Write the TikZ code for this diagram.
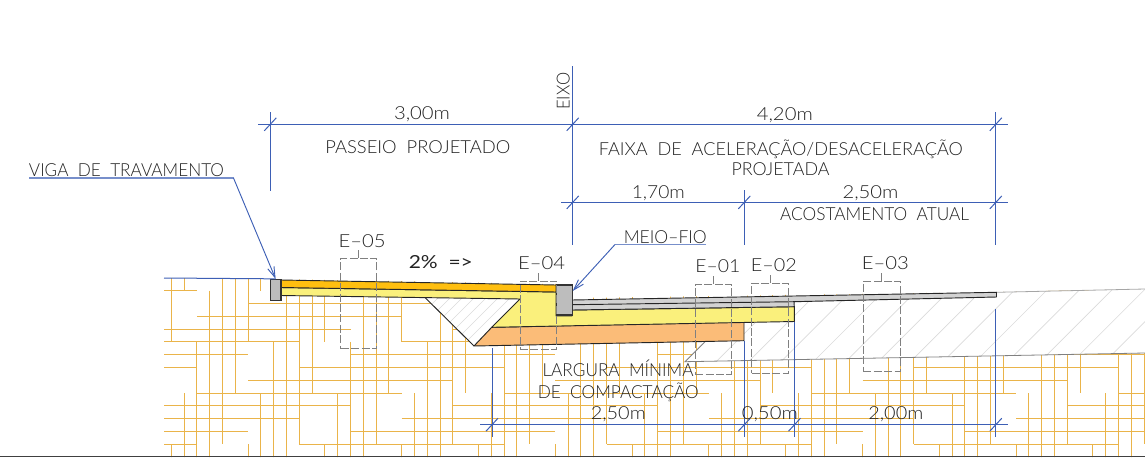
\documentclass[tikz,border=0pt]{standalone}
\usepackage{fontspec}
\usepackage{graphicx}
\setmainfont{Lato}[UprightFont={* Light}]
\newfontfamily\regfont{Lato}
\usetikzlibrary{arrows.meta}
\definecolor{earth}{HTML}{EAB44A}
\definecolor{dimblue}{HTML}{3D5FB5}
\definecolor{ink}{HTML}{222222}
\definecolor{gold}{HTML}{FFBF10}
\definecolor{pale}{HTML}{FAF07C}
\definecolor{peach}{HTML}{FBBC78}
\definecolor{curb}{HTML}{BDBDBD}
\definecolor{asph}{HTML}{D2D2D2}
\newcommand{\lbl}[2]{\resizebox{\dimexpr #1pt*3/4\relax}{\height}{\fontsize{13.5pt}{14pt}\selectfont #2}}
\tikzset{
  gridline/.style={earth,line width=0.75pt},
  dimline/.style={dimblue,line width=0.75pt},
  leader/.style={dimblue,line width=0.7pt,-{Straight Barb[length=8pt,width=5pt]}},
  hatchline/.style={black!14,line width=0.5pt},
  outline/.style={draw=black!85,line width=0.7pt,line join=round},
  ebox/.style={draw=black!50,dash pattern=on 6pt off 1.8pt,line width=0.7pt,inner sep=0pt},
  etick/.style={black!50,line width=0.7pt},
  txt/.style={ink,inner sep=0pt,anchor=base},
  curbbox/.style={draw=black!80,fill=curb,line width=0.8pt,inner sep=0pt}
}
\begin{document}
\begin{tikzpicture}[x=0.75pt,y=-0.75pt]
\useasboundingbox (0,0) rectangle (1145,457);
% earth pattern
\begin{scope}
\clip (164,278) -- (281,279) -- (556,284) -- (573,298) -- (996,292) -- (1145,289) -- (1145,457) -- (164,457) -- cycle;
\foreach \j in {0,...,12}{
  \pgfmathsetmacro{\yy}{290.7+12.8*\j}
  \pgfmathsetmacro{\st}{Mod(34-4*\j,24)-24}
  \foreach \k in {0,...,4}{
    \pgfmathsetmacro{\xa}{171.3+12.8*(\st+24*\k)}
    \pgfmathsetmacro{\xb}{171.3+12.8*(\st+16+24*\k)}
    \draw[gridline] (\xa,\yy) -- (\xb,\yy);
  }
}
\foreach \i in {0,...,76}{
  \pgfmathsetmacro{\xx}{171.3+12.8*\i}
  \pgfmathsetmacro{\en}{Mod(4-4*\i,24)}
  \pgfmathsetmacro{\ya}{290.7+12.8*(\en-16)}
  \pgfmathsetmacro{\yb}{290.7+12.8*\en}
  \pgfmathsetmacro{\yc}{290.7+12.8*(\en+8)}
  \pgfmathsetmacro{\yd}{290.7+12.8*(\en+24)}
  \draw[gridline] (\xx,\ya) -- (\xx,\yb);
  \draw[gridline] (\xx,\yc) -- (\xx,\yd);
}
\end{scope}
% existing subgrade (hatched)
\fill[white] (685,361.7) -- (744,303) -- (794,296) -- (996,292.3) -- (1145,289) -- (1145,353) -- cycle;
\begin{scope}
\clip (685,361.7) -- (744,303) -- (794,296) -- (996,292.3) -- (1145,289) -- (1145,353) -- cycle;
\foreach \k in {-14,...,14}{
  \pgfmathsetmacro{\c}{1175+32.4*\k}
  \pgfmathsetmacro{\xa}{\c-370}
  \pgfmathsetmacro{\xb}{\c-280}
  \draw[hatchline] (\xa,370) -- (\xb,280);
}
\end{scope}
\draw[black!50,line width=0.6pt] (744,303) -- (685,361.7) -- (1145,353);
\draw[black!35,line width=0.6pt] (996,292.3) -- (1145,289);
% drainage wedge
\fill[white] (425,297.5) -- (474,346) -- (520,299) -- cycle;
\begin{scope}
\clip (425,297.5) -- (474,346) -- (520,299) -- cycle;
\foreach \k in {0,...,12}{
  \pgfmathsetmacro{\c}{700+12*\k}
  \pgfmathsetmacro{\xa}{\c-350}
  \pgfmathsetmacro{\xb}{\c-290}
  \draw[hatchline] (\xa,350) -- (\xb,290);
}
\end{scope}
\draw[black!85,line width=0.7pt] (425,297.5) -- (474,346);
% layers
\draw[outline,fill=peach] (491.7,327.3) -- (744,322) -- (744,340.7) -- (474,346) -- cycle;
\draw[outline,fill=pale] (281,287.5) -- (556,292) -- (556,316) -- (572,316) -- (572,310) -- (794.3,306.7) -- (794.3,321.5) -- (491.7,327.3) -- (520,299) -- (281,295.5) -- cycle;
\draw[outline,fill=gold] (281,280) -- (556,285) -- (556,292) -- (281,287.5) -- cycle;
\draw[outline,fill=asph] (572,300) -- (794,296) -- (996.5,292.3) -- (996.5,297) -- (794,301.7) -- (794.3,306.7) -- (572,310) -- cycle;
\draw[black!85,line width=0.7pt] (572,304.7) -- (794,301.7);
% curbs
\node[curbbox,minimum width=8.1pt,minimum height=15.5pt] (viga) at (275.6,289.7) {};
\node[curbbox,minimum width=11.8pt,minimum height=22.5pt] (meiofio) at (564.8,300) {};
% test boxes
\node[ebox,minimum width=27pt,minimum height=67.8pt] (e05) at (358.7,303.5) {};
\node[ebox,minimum width=27.5pt,minimum height=51.5pt] (e04) at (538.4,315.3) {};
\node[ebox,minimum width=27.5pt,minimum height=67pt] (e01) at (713.6,329.3) {};
\node[ebox,minimum width=27.5pt,minimum height=67.5pt] (e02) at (770,328.3) {};
\node[ebox,minimum width=27.7pt,minimum height=67.5pt] (e03) at (881.8,326) {};
\foreach \n in {e05,e04,e01,e02,e03}{ \draw[etick] (\n.north) -- ++(0,-8); }
% dimension coordinates
\coordinate (a1) at (258,124.3); \coordinate (a2) at (1008,124.3);
\coordinate (b1) at (561,202.4); \coordinate (b2) at (1008,202.4);
\coordinate (c1) at (480,424.7); \coordinate (c2) at (1008,424.7);
\coordinate (v1t) at (270.3,112); \coordinate (v1b) at (270.3,190.7);
\coordinate (v2t) at (572.7,66); \coordinate (v2b) at (572.7,245);
\coordinate (v3t) at (995.8,112); \coordinate (v3b) at (995.8,245);
\coordinate (v4t) at (744.3,190); \coordinate (v4b) at (744.3,245);
\coordinate (v5t) at (492,348); \coordinate (v5b) at (492,437);
\coordinate (v6t) at (744.3,340.7); \coordinate (v6b) at (744.3,437);
\coordinate (v7t) at (794.5,322); \coordinate (v7b) at (794.5,437);
\coordinate (v8t) at (995.8,309); \coordinate (v8b) at (995.8,437);
\draw[dimline] (a1) -- (a2);
\draw[dimline] (b1) -- (b2);
\draw[dimline] (c1) -- (c2);
\foreach \p/\q in {v1t/v1b,v2t/v2b,v3t/v3b,v4t/v4b,v5t/v5b,v6t/v6b,v7t/v7b,v8t/v8b}{ \draw[dimline] (\p) -- (\q); }
\foreach \x/\y in {270.3/124.3,572.7/124.3,995.8/124.3,572.7/202.4,744.3/202.4,995.8/202.4,492/424.7,744.3/424.7,794.5/424.7,995.8/424.7}{
  \draw[dimline] (\x-6,\y+6.5) -- (\x+6,\y-6.5);
}
% ground line and leaders
\coordinate (g0) at (164,278);
\draw[dimline] (g0) -- (viga.north);
\coordinate (l1) at (29,178); \coordinate (l2) at (233.5,178);
\draw[dimblue!70,line width=1pt] (l1) -- (l2);
\draw[leader] (l2) -- (viga.north);
\coordinate (m1) at (706,244.5); \coordinate (m2) at (615,244.5); \coordinate (mtip) at (572.7,291);
\draw[dimblue!70,line width=1pt] (m1) -- (m2);
\draw[leader] (m2) -- (mtip);
% bottom line
\coordinate (f1) at (0,456.3); \coordinate (f2) at (1145,456.3);
\draw[black!75,line width=0.9pt] (f1) -- (f2);
% texts
\node[txt] (t1) at (126.5,176) {\lbl{195}{VIGA\ \ DE\ \ TRAVAMENTO}};
\node[txt] (t2) at (422,119.5) {\lbl{56}{3,00m}};
\node[txt] (t3) at (417.8,153.2) {\lbl{185}{PASSEIO\ \ PROJETADO}};
\node[txt,rotate=90] (t4) at (569.5,91.3) {\lbl{37}{EIXO}};
\node[txt] (t5) at (784.8,120.5) {\lbl{56}{4,20m}};
\node[txt] (t6) at (780.8,155.8) {\lbl{364}{FAIXA\ \ DE\ \ ACELERAÇÃO/DESACELERAÇÃO}};
\node[txt] (t7) at (780.5,175.8) {\lbl{98}{PROJETADA}};
\node[txt] (t8) at (658.3,198.2) {\lbl{53}{1,70m}};
\node[txt] (t9) at (870.5,198.2) {\lbl{56}{2,50m}};
\node[txt] (t10) at (874.6,220.8) {\lbl{189}{ACOSTAMENTO\ \ ATUAL}};
\node[txt] (t11) at (665.3,243.2) {\lbl{83}{MEIO–FIO}};
\node[txt] (t12) at (440.8,268.2) {\lbl{64}{\regfont 2\%\ \ =>}};
\node[txt] (t13) at (362.2,247.2) {\lbl{47}{E–05}};
\node[txt] (t14) at (541.7,269.2) {\lbl{47}{E–04}};
\node[txt] (t15) at (717.8,272.5) {\lbl{45}{E–01}};
\node[txt] (t16) at (773.8,271.5) {\lbl{46}{E–02}};
\node[txt] (t17) at (885.3,269.2) {\lbl{47}{E–03}};
\node[txt] (t18) at (618,376.5) {\lbl{151}{LARGURA\ \ MÍNIMA}};
\node[txt] (t19) at (618.3,398.8) {\lbl{161}{DE\ \ COMPACTAÇÃO}};
\node[txt] (t20) at (618.3,419.8) {\lbl{55}{2,50m}};
\node[txt] (t21) at (769.8,419.5) {\lbl{56}{0,50m}};
\node[txt] (t22) at (895.8,419.5) {\lbl{55}{2,00m}};
\end{tikzpicture}
\end{document}
